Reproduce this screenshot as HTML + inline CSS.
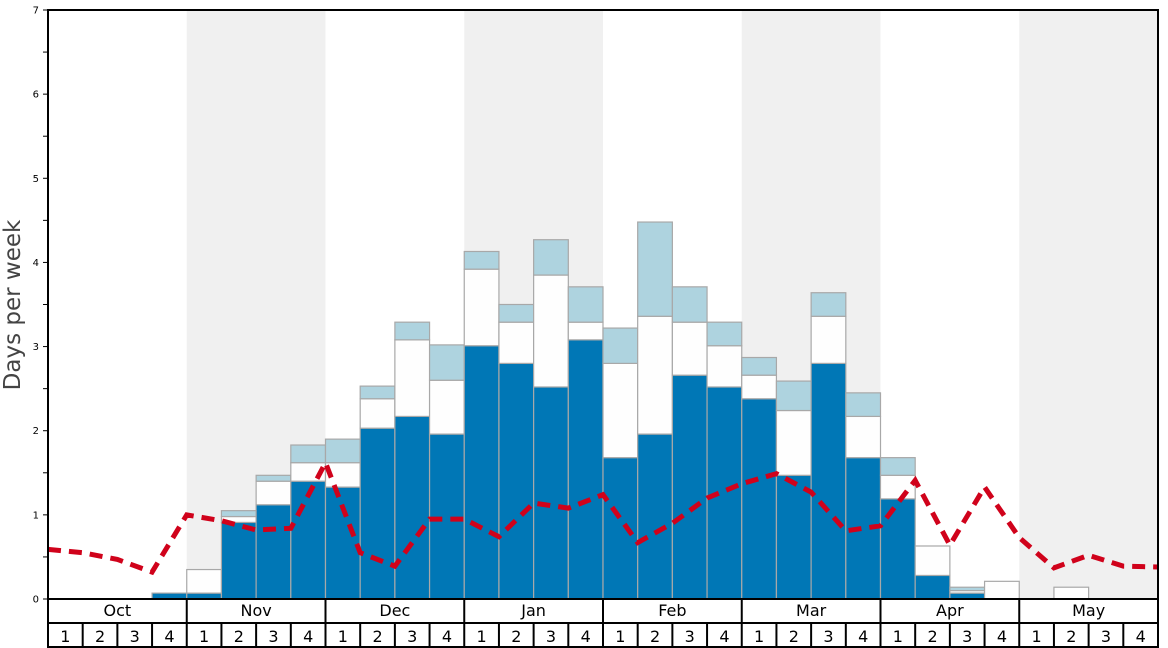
<!DOCTYPE html>
<html><head><meta charset="utf-8"><style>
body{margin:0;background:#fff;}
svg{display:block;font-family:"DejaVu Sans","Liberation Sans",sans-serif;}
</style></head><body>
<svg id="chart" width="1168" height="648" xmlns="http://www.w3.org/2000/svg">
<g id="bg"></g><g id="bars"></g><g id="line"></g><g id="axes"></g>
</svg>
<script>
const months = ["Oct","Nov","Dec","Jan","Feb","Mar","Apr","May"];
const yTicks = [0,1,2,3,4,5,6,7];
const darkVals  = [0,0,0,0.07, 0.07,0.91,1.12,1.40, 1.33,2.03,2.17,1.96, 3.01,2.80,2.52,3.08, 1.68,1.96,2.66,2.52, 2.38,1.47,2.80,1.68, 1.19,0.28,0.07,0, 0,0,0,0];
const whiteVals = [0,0,0,0.07, 0.35,0.98,1.40,1.62, 1.62,2.38,3.08,2.60, 3.92,3.29,3.85,3.29, 2.80,3.36,3.29,3.01, 2.66,2.24,3.36,2.17, 1.47,0.63,0.10,0.21, 0,0.14,0,0];
const lightVals = [0,0,0,0.07, 0.35,1.05,1.47,1.83, 1.90,2.53,3.29,3.02, 4.13,3.50,4.27,3.71, 3.22,4.48,3.71,3.29, 2.87,2.59,3.64,2.45, 1.68,0.63,0.14,0.21, 0,0.14,0,0];
const avgVals = [0.59,0.55,0.47,0.32, 1.00,0.93,0.82,0.84, 1.62,0.55,0.39,0.95, 0.95,0.74,1.14,1.08, 1.24,0.67,0.90,1.20, 1.37,1.49,1.27,0.81, 0.87,1.41,0.64,1.33, 0.73,0.37,0.52,0.39, 0.38];

const X0=48,X1=1158,Y0=599,Y1=10;
const nW=32, wW=(X1-X0)/nW;
const x = i => X0 + i*wW;
const y = v => Y0 - v*(Y0-Y1)/7;
const NS="http://www.w3.org/2000/svg";
function mk(tag, parent, attrs){const e=document.createElementNS(NS,tag);for(const k in attrs)e.setAttribute(k,attrs[k]);document.getElementById(parent).appendChild(e);return e;}

// month shading
months.forEach((m,mi)=>{
  if(mi%2===1){
    const r=mk('rect','bg',{x:x(mi*4),y:Y1,width:wW*4,height:Y0-Y1,fill:'#f0f0f0'});
    
    
  }
});
// bars
for(let i=0;i<nW;i++){
  const segs=[[0,darkVals[i],'#0077b6'],[darkVals[i],whiteVals[i],'#fefefe'],[whiteVals[i],lightVals[i],'#aed3df']];
  segs.forEach(([a,b,c],si)=>{
    if(b-a<=0.001) return;
    const r=mk('rect','bars',{x:x(i),y:y(b),width:wW,height:y(a)-y(b),fill:c,stroke:'#a8a8a8','stroke-width':1.2});
    
    
  });
}
// avg line
const pts=avgVals.map((v,i)=>x(i)+','+y(v)).join(' ');
const pl=mk('polyline','line',{points:pts,fill:'none',stroke:'#d0021b','stroke-width':5,'stroke-dasharray':'13 8'});



// axes
const fr=mk('rect','axes',{x:X0,y:Y1,width:X1-X0,height:Y0-Y1,fill:'none',stroke:'#000','stroke-width':2});


yTicks.forEach(t=>{
  mk('line','axes',{x1:X0-5,x2:X0,y1:y(t),y2:y(t),stroke:'#000','stroke-width':1});
  if(t<7) mk('line','axes',{x1:X0-5,x2:X0,y1:y(t+0.5),y2:y(t+0.5),stroke:'#000','stroke-width':1});
  const tx=mk('text','axes',{x:X0-9,y:y(t)+3.5,'font-size':10,'text-anchor':'end',fill:'#000'});
  tx.textContent=t;
  
  
});
const yt=mk('text','axes',{x:20,y:305,'font-size':23,'text-anchor':'middle',fill:'#444',transform:'rotate(-90 20 305)'});
yt.textContent='Days per week';


// bottom table
mk('line','axes',{x1:X0,x2:X1,y1:623,y2:623,stroke:'#000','stroke-width':2});
mk('line','axes',{x1:X0,x2:X1,y1:647,y2:647,stroke:'#000','stroke-width':2});
mk('line','axes',{x1:X0,x2:X0,y1:Y0,y2:648,stroke:'#000','stroke-width':2});
mk('line','axes',{x1:X1,x2:X1,y1:Y0,y2:648,stroke:'#000','stroke-width':2});
months.forEach((m,mi)=>{
  if(mi>0) mk('line','axes',{x1:x(mi*4),x2:x(mi*4),y1:Y0,y2:648,stroke:'#000','stroke-width':2});
  const t=mk('text','axes',{x:x(mi*4+2),y:616,'font-size':16,'text-anchor':'middle',fill:'#000'});
  t.textContent=m;
  
  
  for(let w=0;w<4;w++){
    const i=mi*4+w;
    if(w>0) mk('line','axes',{x1:x(i),x2:x(i),y1:623,y2:648,stroke:'#000','stroke-width':2});
    const wt=mk('text','axes',{x:x(i+0.5),y:642,'font-size':16,'text-anchor':'middle',fill:'#000'});
    wt.textContent=w+1;
    
    
  }
});
</script>
</body></html>
